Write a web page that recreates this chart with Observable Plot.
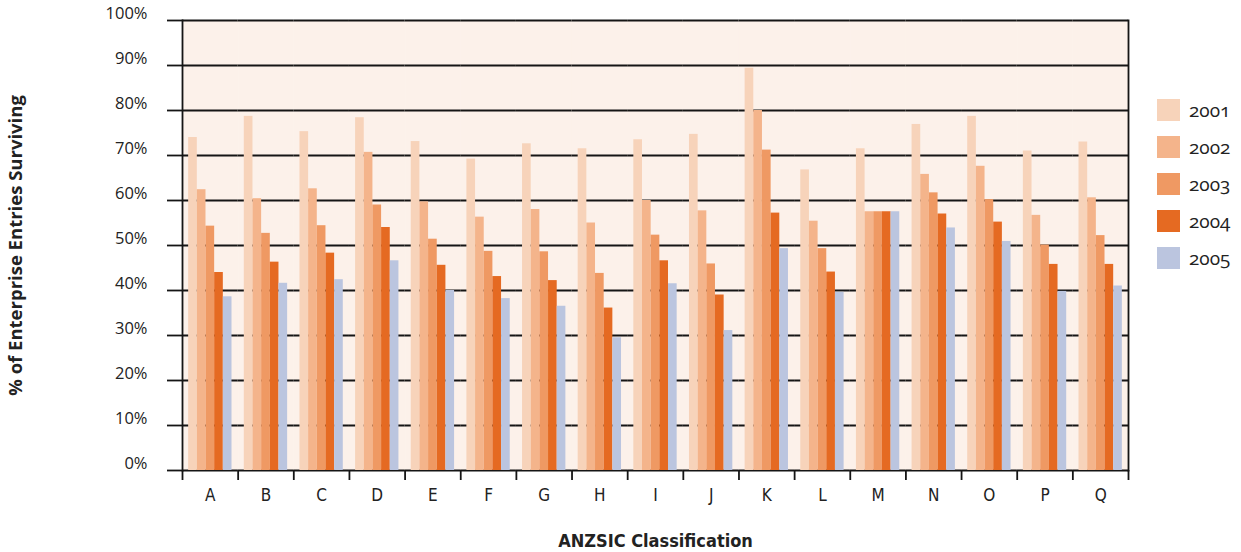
<!DOCTYPE html>
<html>
<head>
<meta charset="utf-8">
<script src="https://cdn.jsdelivr.net/npm/d3@7"></script>
<script src="https://cdn.jsdelivr.net/npm/@observablehq/plot@0.6"></script>
<style>
  html, body { margin: 0; padding: 0; background: #ffffff; }
  #wrap { position: relative; width: 1241px; height: 552px; }
  #legend { position: absolute; left: 1157px; top: 99px; font-family: "Open Sans", "DejaVu Sans", sans-serif; font-size: 19px; color: #222; font-variant-numeric: oldstyle-nums; }
  .item { display: flex; align-items: center; height: 22px; margin-bottom: 15px; }
  .sw { width: 23px; height: 22px; margin-right: 9px; flex: none; }
</style>
</head>
<body>
<div id="wrap"><div id="legend"></div></div>
<script>
const categories = ["A","B","C","D","E","F","G","H","I","J","K","L","M","N","O","P","Q"];
const years = ["2001","2002","2003","2004","2005"];
const colors = ["#f7d3ba","#f4b48b","#ef9963","#e56a22","#bbc5df"];
const v2001 = [74.0,78.7,75.3,78.4,73.1,69.2,72.6,71.5,73.5,74.7,89.4,66.8,71.5,76.9,78.7,71.0,73.0];
const v2002 = [62.4,60.4,62.6,70.7,59.7,56.3,58.0,55.0,60.0,57.7,80.0,55.4,57.5,65.8,67.6,56.7,60.6];
const v2003 = [54.3,52.7,54.4,59.0,51.4,48.7,48.6,43.8,52.3,45.9,71.2,49.3,57.5,61.7,60.2,50.1,52.2];
const v2004 = [44.0,46.3,48.3,54.0,45.6,43.1,42.2,36.1,46.6,39.0,57.2,44.1,57.5,57.0,55.2,45.8,45.8];
const v2005 = [38.6,41.6,42.4,46.6,40.0,38.2,36.5,29.5,41.5,31.1,49.3,39.6,57.5,53.9,50.9,39.8,41.0];
const yTicks = [0,10,20,30,40,50,60,70,80,90,100];

const series = [v2001, v2002, v2003, v2004, v2005];
const rows = [];
categories.forEach((c, i) => years.forEach((y, j) => rows.push({cat: c, year: y, value: series[j][i]})));

const width = 1241, height = 552;
const ml = 182, mr = 113, mt = 20, mb = 82;
const bw = (width - ml - mr) / categories.length;
const ink = "#151515";
const narrow = "'Liberation Sans Narrow', 'DejaVu Sans Condensed', sans-serif";

const chart = Plot.plot({
  width, height,
  marginLeft: ml, marginRight: mr, marginTop: mt, marginBottom: mb,
  style: {fontFamily: "'Open Sans', 'DejaVu Sans', sans-serif", fontSize: "16px", color: "#222", background: "transparent"},
  fx: {domain: categories, padding: 0, round: false, axis: null},
  x: {domain: years, paddingInner: 0, paddingOuter: 0.71, round: false, axis: null},
  y: {domain: [0, 100], axis: null},
  color: {domain: years, range: colors},
  marks: [
    Plot.frame({fill: "#fcf1ea", stroke: "#fcf1ea", strokeWidth: 0.6}),
    Plot.ruleY(yTicks, {stroke: ink, strokeWidth: 1.8}),
    Plot.barY(rows, {fx: "cat", x: "year", y: "value", fill: "year"}),
    Plot.axisY({ticks: yTicks, tickSize: 15, text: null, label: null, strokeWidth: 1.8, stroke: ink}),
    Plot.axisY({
      ticks: yTicks, tickSize: 0, tickPadding: 35,
      tickFormat: d => d + "%", fontVariantNumeric: "oldstyle-nums", fontSize: 16.5, dy: -7,
      label: "% of Enterprise Entries Surviving", labelAnchor: "center", labelOffset: 174, labelArrow: "none"
    }),
    Plot.frame({anchor: "left", facetAnchor: "left", stroke: ink, strokeWidth: 1.8}),
    Plot.frame({anchor: "right", facetAnchor: "right", stroke: ink, strokeWidth: 1.8}),
    Plot.axisFx({
      anchor: "bottom", tickSize: 0, tickPadding: 18,
      fontFamily: narrow, fontSize: 17,
      label: "ANZSIC Classification", labelAnchor: "center", labelOffset: 76
    }),
    Plot.axisFx({anchor: "bottom", tickSize: 10, text: null, label: null, dx: -bw / 2, stroke: ink, strokeWidth: 1.8}),
    Plot.axisFx({anchor: "bottom", ticks: ["Q"], tickSize: 10, text: null, label: null, dx: bw / 2, stroke: ink, strokeWidth: 1.8})
  ]
});
document.getElementById("wrap").prepend(chart);

d3.select(chart).selectAll("[aria-label='y-axis label']")
  .attr("font-weight", "bold").attr("font-size", 18.5);
d3.select(chart).selectAll("[aria-label='fx-axis label']")
  .attr("font-weight", "bold").attr("font-size", 18)
  .attr("font-family", narrow);

const legend = d3.select("#legend");
years.forEach((y, j) => {
  const it = legend.append("div").attr("class", "item");
  it.append("div").attr("class", "sw").style("background", colors[j]);
  it.append("span").text(y);
});
</script>
</body>
</html>
